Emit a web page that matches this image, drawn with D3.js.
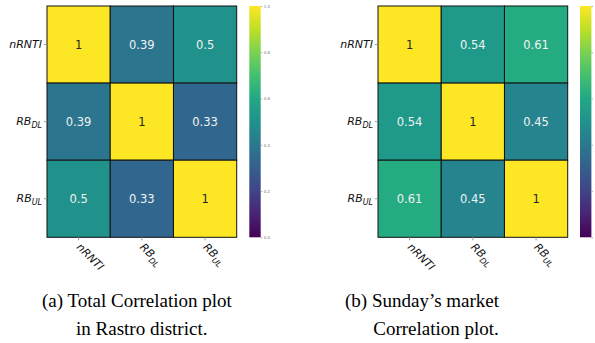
<!DOCTYPE html>
<html>
<head>
<meta charset="utf-8">
<script src="https://cdn.jsdelivr.net/npm/d3@7"></script>
<style>
  body { margin: 0; background: #fff; }
  svg { display: block; }
</style>
</head>
<body>
<script>
var labels = ["nRNTI", "RB_DL", "RB_UL"];
var corrA = [
  [1, 0.39, 0.5],
  [0.39, 1, 0.33],
  [0.5, 0.33, 1]
];
var corrB = [
  [1, 0.54, 0.61],
  [0.54, 1, 0.45],
  [0.61, 0.45, 1]
];
var cbarTicks = [0, 0.2, 0.4, 0.6, 0.8, 1.0];
var captionA = ["(a) ", "Total Correlation plot", "in Rastro district."];
var captionB = ["(b) ", "Sunday\u2019s market", "Correlation plot."];

var w = 595, h = 343;
var yTop = 6, yBottom = 237.3;

var svg = d3.select("body").append("svg")
  .attr("width", w).attr("height", h);

var color = d3.scaleSequential(d3.interpolateViridis).domain([0, 1]);

// write "RB_DL" as RB with a subscript
function labelText(sel) {
  sel.each(function(d) {
    var t = d3.select(this);
    var parts = d.split("_");
    t.text(null);
    t.append("tspan").text(parts[0]);
    if (parts[1]) {
      t.append("tspan").attr("dy", 3).attr("font-size", "8px").text(parts[1]);
    }
  });
}

function heatmap(data, x0, x1, cb0, cbLabels) {
  var g = svg.append("g");
  var x = d3.scaleBand().domain(labels).range([x0, x1]);
  var y = d3.scaleBand().domain(labels).range([yTop, yBottom]);

  var cells = [];
  data.forEach(function(row, i) {
    row.forEach(function(v, j) {
      cells.push({ r: labels[i], c: labels[j], v: v });
    });
  });

  g.selectAll("rect.cell").data(cells).enter().append("rect")
    .attr("class", "cell")
    .attr("x", function(d) { return x(d.c); })
    .attr("y", function(d) { return y(d.r); })
    .attr("width", x.bandwidth())
    .attr("height", y.bandwidth())
    .attr("fill", function(d) { return color(d.v); })
    .attr("stroke", "#111")
    .attr("stroke-width", 1);

  g.selectAll("text.ann").data(cells).enter().append("text")
    .attr("class", "ann")
    .attr("x", function(d) { return x(d.c) + x.bandwidth() / 2; })
    .attr("y", function(d) { return y(d.r) + y.bandwidth() / 2; })
    .attr("dy", "0.36em")
    .attr("text-anchor", "middle")
    .attr("font-family", "DejaVu Sans")
    .attr("font-size", "11.5px")
    .attr("fill", function(d) { return d.v > 0.7 ? "#262626" : "#f2f2f2"; })
    .text(function(d) { return d3.format("")(d.v); });

  // y axis
  var ya = g.append("g").attr("transform", "translate(" + x0 + ",0)")
    .call(d3.axisLeft(y).tickSize(3).tickPadding(2));
  ya.select(".domain").remove();
  ya.selectAll("line").attr("stroke", "#999");
  ya.selectAll("text")
    .attr("font-family", "DejaVu Sans")
    .attr("font-style", "italic")
    .attr("font-size", "11px")
    .attr("fill", "#111")
    .call(labelText);

  // x axis, rotated labels
  var xa = g.append("g").attr("transform", "translate(0," + yBottom + ")")
    .call(d3.axisBottom(x).tickSize(3).tickPadding(2));
  xa.select(".domain").remove();
  xa.selectAll("line").attr("stroke", "#999");
  xa.selectAll("text")
    .attr("font-family", "DejaVu Sans")
    .attr("font-style", "italic")
    .attr("font-size", "11px")
    .attr("fill", "#111")
    .attr("text-anchor", "start")
    .attr("y", 0)
    .attr("dy", "0.71em")
    .attr("transform", "translate(3,5) rotate(45)")
    .call(labelText);

  // colorbar
  var cbw = 11.4;
  var gradId = "grad" + x0;
  var grad = svg.append("defs").append("linearGradient")
    .attr("id", gradId)
    .attr("x1", 0).attr("y1", 1).attr("x2", 0).attr("y2", 0);
  d3.range(0, 1.01, 0.1).forEach(function(t) {
    grad.append("stop").attr("offset", t).attr("stop-color", color(t));
  });
  var cy = d3.scaleLinear().domain([0, 1]).range([yBottom, yTop]);
  g.append("rect")
    .attr("x", cb0).attr("y", yTop)
    .attr("width", cbw).attr("height", yBottom - yTop)
    .attr("fill", "url(#" + gradId + ")");
  var ca = g.append("g").attr("transform", "translate(" + (cb0 + cbw) + ",0)")
    .call(d3.axisRight(cy).tickValues(cbarTicks)
      .tickFormat(cbLabels ? d3.format(".1f") : "")
      .tickSize(1.5).tickPadding(1.5));
  ca.select(".domain").remove();
  ca.selectAll("line").attr("stroke", "#aaa");
  ca.selectAll("text")
    .attr("font-family", "DejaVu Sans")
    .attr("font-size", "4px")
    .attr("fill", "#777");
}

heatmap(corrA, 47, 236.7, 249.3, true);
// the right colorbar's labels fall outside the picture
heatmap(corrB, 378, 567.7, 580, false);

function caption(c, xStart, xLine2, anchor2) {
  var g = svg.append("g")
    .attr("font-family", "Liberation Serif")
    .attr("font-size", "19px")
    .attr("fill", "#000");
  g.append("text").attr("x", xStart).attr("y", 307).text(c[0] + c[1]);
  g.append("text").attr("x", xLine2).attr("y", 335)
    .attr("text-anchor", anchor2).text(c[2]);
}

caption(captionA, 42, 76, "start");
caption(captionB, 345, 436, "middle");
</script>
</body>
</html>
